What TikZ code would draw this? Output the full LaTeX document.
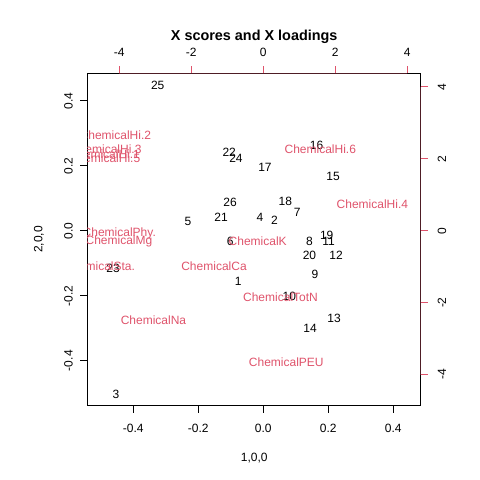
\documentclass[tikz,border=0pt]{standalone}
\usepackage{fontspec}
\setmainfont{Liberation Sans}
\usetikzlibrary{positioning}
\definecolor{loadred}{HTML}{DF536B}
\tikzset{
    lab/.style={font=\fontsize{6.83}{8}\selectfont, inner sep=0pt, text height=4.9pt, text depth=0pt},
    score/.style={lab, text=black},
    loading/.style={lab, text=loadred},
    tick/.style={line width=0.57pt},
}

\begin{document}
\begin{tikzpicture}[x=6.5cm,y=6.5cm]
                \useasboundingbox (-0.8102,-0.7671) rectangle (0.6668,0.7098);
                % Plot box
                \draw[tick] (-0.5415,-0.5385) rectangle (0.4843,0.4843);
                % Score axes (bottom, left)
                \foreach \t/\lab [count=\i] in {-0.4/-0.4,-0.2/-0.2,0/0.0,0.2/0.2,0.4/0.4} {
                    \draw[tick] (\t,-0.5385) -- (\t,-0.5600);
                    \node[lab] (bx\i) at (\t,-0.608) {\lab};
                    \draw[tick] (-0.5415,\t) -- (-0.5630,\t);
                    \node[lab, rotate=90] (ly\i) at (-0.600,\t) {\lab};
                }
                % Loading axes (top, right)
                \draw[tick, loadred!35!black] (-0.4431,0.4843) -- (0.4431,0.4843);
                \draw[tick, loadred!35!black] (0.4843,-0.4431) -- (0.4843,0.4431);
                \foreach \t [count=\i] in {-4,-2,0,2,4} {
                    \draw[tick, loadred] ({\t*0.11077},0.4843) -- ({\t*0.11077},0.5058);
                    \node[lab] (tx\i) at ({\t*0.11077},0.549) {\t};
                    \draw[tick, loadred] (0.4843,{\t*0.11077}) -- (0.5058,{\t*0.11077});
                    \node[lab, rotate=90] (ry\i) at (0.549,{\t*0.11077}) {\t};
                }
                % Titles
                \node[font=\bfseries\fontsize{8.2}{10}\selectfont, inner sep=0pt] (title) at (-0.028,0.597) {X scores and X loadings};
                \node[lab] (xlab) at (-0.028,-0.696) {1,0,0};
                \node[lab, rotate=90] (ylab) at (-0.693,-0.027) {2,0,0};
                % Scores
                \foreach \x/\y/\n in {-0.325/0.447/25, -0.105/0.243/22, -0.084/0.224/24, 0.005/0.194/17,
                        0.164/0.264/16, 0.215/0.169/15, -0.102/0.087/26, -0.130/0.043/21,
                        -0.232/0.028/5, -0.010/0.043/4, 0.034/0.032/2, 0.068/0.092/18,
                        0.104/0.057/7, -0.102/-0.033/6, 0.142/-0.031/8, 0.195/-0.014/19,
                        0.201/-0.032/11, 0.142/-0.077/20, 0.224/-0.074/12, 0.159/-0.135/9,
                        -0.077/-0.157/1, -0.462/-0.114/23, 0.080/-0.203/10, 0.218/-0.268/13,
                        0.144/-0.299/14, -0.453/-0.503/3} {
                    \node[score] (s\n) at (\x,\y) {\n};
                }
                % Loadings
                \begin{scope}
                    \clip (-0.5415,-0.5385) rectangle (0.4843,0.4843);
                    \begin{scope}[x=0.72cm,y=0.72cm]
                        \foreach \x/\y/\v/\n in {-4.11/2.64/Hi.2/hi2, -4.375/2.255/Hi.3/hi3,
                                -4.42/2.13/Hi.1/hi1, -4.41/2.01/Hi.5/hi5, 1.583/2.261/Hi.6/hi6,
                                3.03/0.733/Hi.4/hi4, -4.0/-0.044/Phy./phy, -4.01/-0.258/Mg/mg,
                                -0.156/-0.286/K/k, -4.556/-0.981/Sta./sta, -1.369/-1.0/Ca/ca,
                                0.478/-1.861/TotN/totn, -3.05/-2.5/Na/na, 0.639/-3.667/PEU/peu} {
                            \node[loading] (l\n) at (\x,\y) {Chemical\v};
                        }
                    \end{scope}
                \end{scope}
            \end{tikzpicture}
\end{document}
